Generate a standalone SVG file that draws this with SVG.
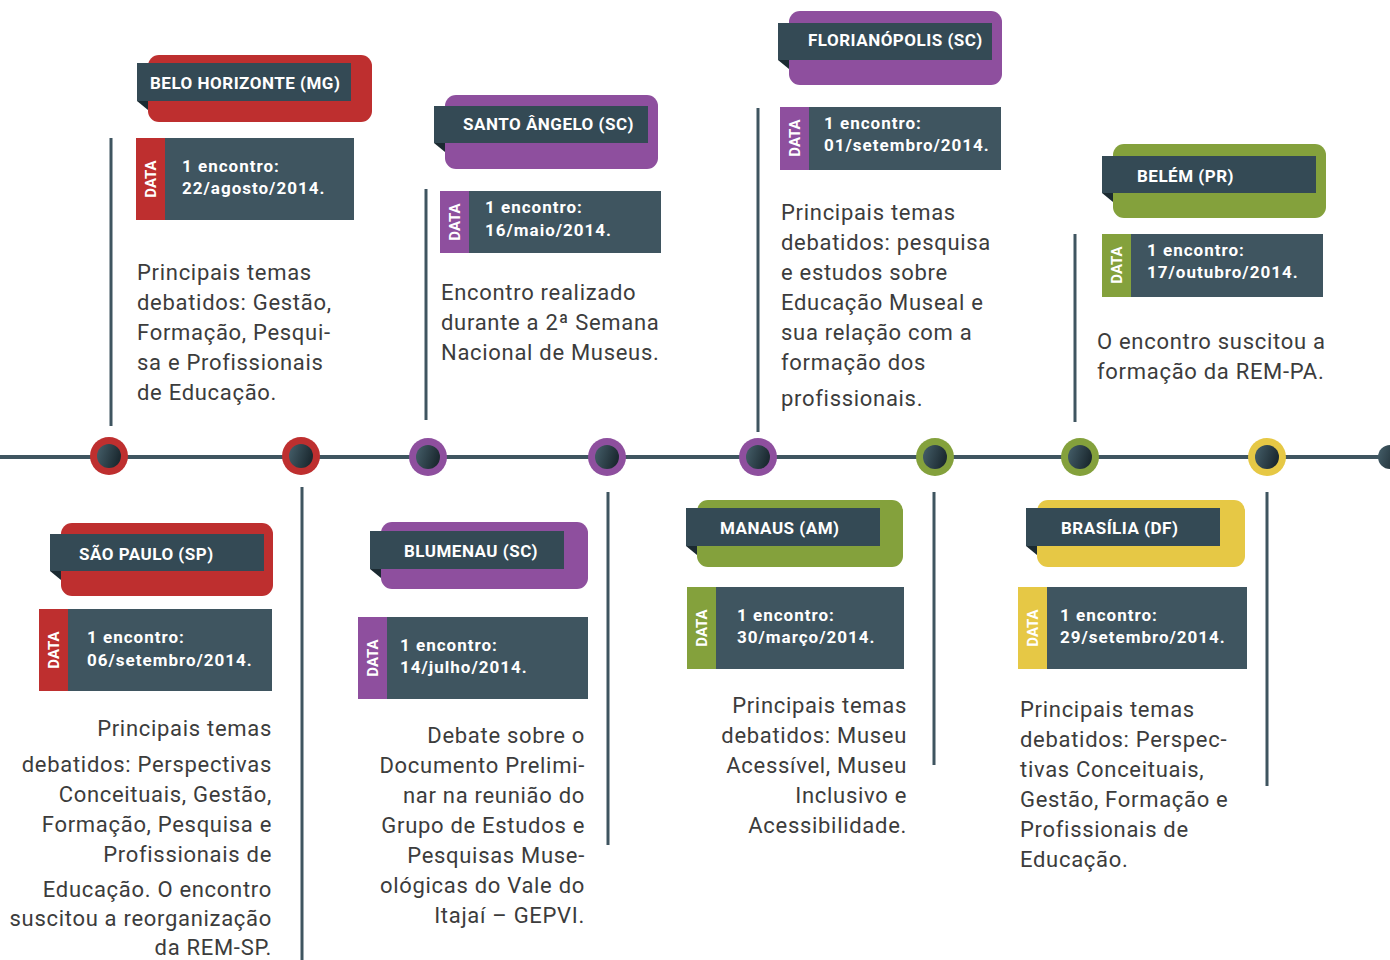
<svg xmlns="http://www.w3.org/2000/svg" width="1390" height="960" viewBox="0 0 1390 960">
<defs>
<linearGradient id="dot" x1="0" y1="0" x2="1" y2="0.3">
<stop offset="0" stop-color="#46606b"/>
<stop offset="1" stop-color="#1c2a31"/>
</linearGradient>
<style>
.tl{stroke:#3f5560;stroke-width:4;fill:none}
.vl{stroke:#3f5560;stroke-width:3;fill:none}
.ban{fill:#344a55}
.fold{fill:#1b2a31}
.dbox{fill:#3f5560}
.ttl{font-family:Roboto,"Liberation Sans",sans-serif;font-weight:bold;font-size:17px;fill:#ffffff;letter-spacing:0.5px}
.dt{font-family:Roboto,"Liberation Sans",sans-serif;font-weight:bold;font-size:17px;fill:#ffffff;letter-spacing:1px}
.dl{font-family:Roboto,"Liberation Sans",sans-serif;font-weight:bold;font-size:15px;fill:#ffffff;text-anchor:middle}
.body{font-family:Roboto,"Liberation Sans",sans-serif;font-size:22px;fill:#3c3c3c;letter-spacing:0.7px}
.r{text-anchor:end}
.red{fill:#be2f2f}
.pur{fill:#8e4f9e}
.grn{fill:#84a13c}
.yel{fill:#e6c845}
.inner{fill:url(#dot)}
</style>
</defs>
<rect width="1390" height="960" fill="#ffffff"/>

<g id="connectors">
<line class="tl" x1="0" y1="457" x2="1390" y2="457"/>
<line class="vl" x1="111" y1="138" x2="111" y2="426"/>
<line class="vl" x1="302" y1="487" x2="302" y2="960"/>
<line class="vl" x1="426" y1="189" x2="426" y2="420"/>
<line class="vl" x1="608" y1="492" x2="608" y2="845"/>
<line class="vl" x1="758" y1="108" x2="758" y2="432"/>
<line class="vl" x1="934" y1="492" x2="934" y2="765"/>
<line class="vl" x1="1075" y1="234" x2="1075" y2="422"/>
<line class="vl" x1="1267" y1="492" x2="1267" y2="786"/>
</g>

<g id="markers">
<circle cx="109" cy="456" r="19" class="red"/><circle cx="109" cy="456" r="12" class="inner"/>
<circle cx="301" cy="456" r="19" class="red"/><circle cx="301" cy="456" r="12" class="inner"/>
<circle cx="428" cy="457" r="19" class="pur"/><circle cx="428" cy="457" r="12" class="inner"/>
<circle cx="607" cy="457" r="19" class="pur"/><circle cx="607" cy="457" r="12" class="inner"/>
<circle cx="758" cy="457" r="19" class="pur"/><circle cx="758" cy="457" r="12" class="inner"/>
<circle cx="935" cy="457" r="19" class="grn"/><circle cx="935" cy="457" r="12" class="inner"/>
<circle cx="1080" cy="457" r="19" class="grn"/><circle cx="1080" cy="457" r="12" class="inner"/>
<circle cx="1267" cy="457" r="19" class="yel"/><circle cx="1267" cy="457" r="12" class="inner"/>
<circle cx="1390" cy="457" r="12" class="inner"/>
</g>

<g id="belo-horizonte">
<rect x="148" y="55" width="224" height="67" rx="11" class="red"/>
<rect x="137" y="63" width="214" height="38" class="ban"/>
<polygon points="137,101 148,101 148,110" class="fold"/>
<text x="150" y="89" class="ttl">BELO HORIZONTE (MG)</text>
<rect x="136" y="138" width="29" height="82" class="red"/>
<rect x="165" y="138" width="189" height="82" class="dbox"/>
<text class="dl" transform="translate(156,179) rotate(-90)">DATA</text>
<text x="182" y="172" class="dt">1 encontro:</text>
<text x="182" y="194" class="dt">22/agosto/2014.</text>
<text class="body" x="137"><tspan x="137" y="280">Principais temas</tspan><tspan x="137" y="310">debatidos: Gestão,</tspan><tspan x="137" y="340">Formação, Pesqui-</tspan><tspan x="137" y="370">sa e Profissionais</tspan><tspan x="137" y="400">de Educação.</tspan></text>
</g>

<g id="sao-paulo">
<rect x="61" y="523" width="212" height="73" rx="11" class="red"/>
<rect x="50" y="534" width="214" height="37" class="ban"/>
<polygon points="50,571 61,571 61,580" class="fold"/>
<text x="79" y="560" class="ttl">SÃO PAULO (SP)</text>
<rect x="39" y="609" width="29" height="82" class="red"/>
<rect x="68" y="609" width="204" height="82" class="dbox"/>
<text class="dl" transform="translate(59,650) rotate(-90)">DATA</text>
<text x="87" y="643" class="dt">1 encontro:</text>
<text x="87" y="666" class="dt">06/setembro/2014.</text>
<text class="body r"><tspan x="272" y="736">Principais temas</tspan><tspan x="272" y="772">debatidos: Perspectivas</tspan><tspan x="272" y="802">Conceituais, Gestão,</tspan><tspan x="272" y="832">Formação, Pesquisa e</tspan><tspan x="272" y="862">Profissionais de</tspan><tspan x="272" y="897">Educação. O encontro</tspan><tspan x="272" y="926">suscitou a reorganização</tspan><tspan x="272" y="955">da REM-SP.</tspan></text>
</g>

<g id="santo-angelo">
<rect x="445" y="95" width="213" height="74" rx="11" class="pur"/>
<rect x="434" y="106" width="214" height="37" class="ban"/>
<polygon points="434,143 445,143 445,152" class="fold"/>
<text x="463" y="130" class="ttl">SANTO ÂNGELO (SC)</text>
<rect x="440" y="191" width="29" height="62" class="pur"/>
<rect x="469" y="191" width="192" height="62" class="dbox"/>
<text class="dl" transform="translate(460,222) rotate(-90)">DATA</text>
<text x="485" y="213" class="dt">1 encontro:</text>
<text x="485" y="236" class="dt">16/maio/2014.</text>
<text class="body"><tspan x="441" y="300">Encontro realizado</tspan><tspan x="441" y="330">durante a 2ª Semana</tspan><tspan x="441" y="360">Nacional de Museus.</tspan></text>
</g>

<g id="blumenau">
<rect x="381" y="522" width="207" height="67" rx="11" class="pur"/>
<rect x="370" y="531" width="194" height="38" class="ban"/>
<polygon points="370,569 381,569 381,578" class="fold"/>
<text x="404" y="557" class="ttl">BLUMENAU (SC)</text>
<rect x="358" y="617" width="29" height="82" class="pur"/>
<rect x="387" y="617" width="201" height="82" class="dbox"/>
<text class="dl" transform="translate(378,658) rotate(-90)">DATA</text>
<text x="400" y="651" class="dt">1 encontro:</text>
<text x="400" y="673" class="dt">14/julho/2014.</text>
<text class="body r"><tspan x="585" y="743">Debate sobre o</tspan><tspan x="585" y="773">Documento Prelimi-</tspan><tspan x="585" y="803">nar na reunião do</tspan><tspan x="585" y="833">Grupo de Estudos e</tspan><tspan x="585" y="863">Pesquisas Muse-</tspan><tspan x="585" y="893">ológicas do Vale do</tspan><tspan x="585" y="923">Itajaí – GEPVI.</tspan></text>
</g>

<g id="florianopolis">
<rect x="789" y="11" width="213" height="74" rx="11" class="pur"/>
<rect x="778" y="23" width="214" height="37" class="ban"/>
<polygon points="778,60 789,60 789,69" class="fold"/>
<text x="808" y="46" class="ttl">FLORIANÓPOLIS (SC)</text>
<rect x="780" y="107" width="29" height="63" class="pur"/>
<rect x="809" y="107" width="192" height="63" class="dbox"/>
<text class="dl" transform="translate(800,138) rotate(-90)">DATA</text>
<text x="824" y="129" class="dt">1 encontro:</text>
<text x="824" y="151" class="dt">01/setembro/2014.</text>
<text class="body"><tspan x="781" y="220">Principais temas</tspan><tspan x="781" y="250">debatidos: pesquisa</tspan><tspan x="781" y="280">e estudos sobre</tspan><tspan x="781" y="310">Educação Museal e</tspan><tspan x="781" y="340">sua relação com a</tspan><tspan x="781" y="370">formação dos</tspan><tspan x="781" y="406">profissionais.</tspan></text>
</g>

<g id="manaus">
<rect x="697" y="500" width="206" height="67" rx="11" class="grn"/>
<rect x="686" y="508" width="194" height="38" class="ban"/>
<polygon points="686,546 697,546 697,555" class="fold"/>
<text x="720" y="534" class="ttl">MANAUS (AM)</text>
<rect x="687" y="587" width="29" height="82" class="grn"/>
<rect x="716" y="587" width="188" height="82" class="dbox"/>
<text class="dl" transform="translate(707,628) rotate(-90)">DATA</text>
<text x="737" y="621" class="dt">1 encontro:</text>
<text x="737" y="643" class="dt">30/março/2014.</text>
<text class="body r"><tspan x="907" y="713">Principais temas</tspan><tspan x="907" y="743">debatidos: Museu</tspan><tspan x="907" y="773">Acessível, Museu</tspan><tspan x="907" y="803">Inclusivo e</tspan><tspan x="907" y="833">Acessibilidade.</tspan></text>
</g>

<g id="belem">
<rect x="1113" y="144" width="213" height="74" rx="11" class="grn"/>
<rect x="1102" y="156" width="214" height="37" class="ban"/>
<polygon points="1102,193 1113,193 1113,202" class="fold"/>
<text x="1137" y="182" class="ttl">BELÉM (PR)</text>
<rect x="1102" y="234" width="29" height="63" class="grn"/>
<rect x="1131" y="234" width="192" height="63" class="dbox"/>
<text class="dl" transform="translate(1122,265) rotate(-90)">DATA</text>
<text x="1147" y="256" class="dt">1 encontro:</text>
<text x="1147" y="278" class="dt">17/outubro/2014.</text>
<text class="body"><tspan x="1097" y="349">O encontro suscitou a</tspan><tspan x="1097" y="379">formação da REM-PA.</tspan></text>
</g>

<g id="brasilia">
<rect x="1037" y="500" width="208" height="67" rx="11" class="yel"/>
<rect x="1026" y="508" width="194" height="38" class="ban"/>
<polygon points="1026,546 1037,546 1037,555" class="fold"/>
<text x="1061" y="534" class="ttl">BRASÍLIA (DF)</text>
<rect x="1018" y="587" width="29" height="82" class="yel"/>
<rect x="1047" y="587" width="200" height="82" class="dbox"/>
<text class="dl" transform="translate(1038,628) rotate(-90)">DATA</text>
<text x="1060" y="621" class="dt">1 encontro:</text>
<text x="1060" y="643" class="dt">29/setembro/2014.</text>
<text class="body"><tspan x="1020" y="717">Principais temas</tspan><tspan x="1020" y="747">debatidos: Perspec-</tspan><tspan x="1020" y="777">tivas Conceituais,</tspan><tspan x="1020" y="807">Gestão, Formação e</tspan><tspan x="1020" y="837">Profissionais de</tspan><tspan x="1020" y="867">Educação.</tspan></text>
</g>
</svg>
